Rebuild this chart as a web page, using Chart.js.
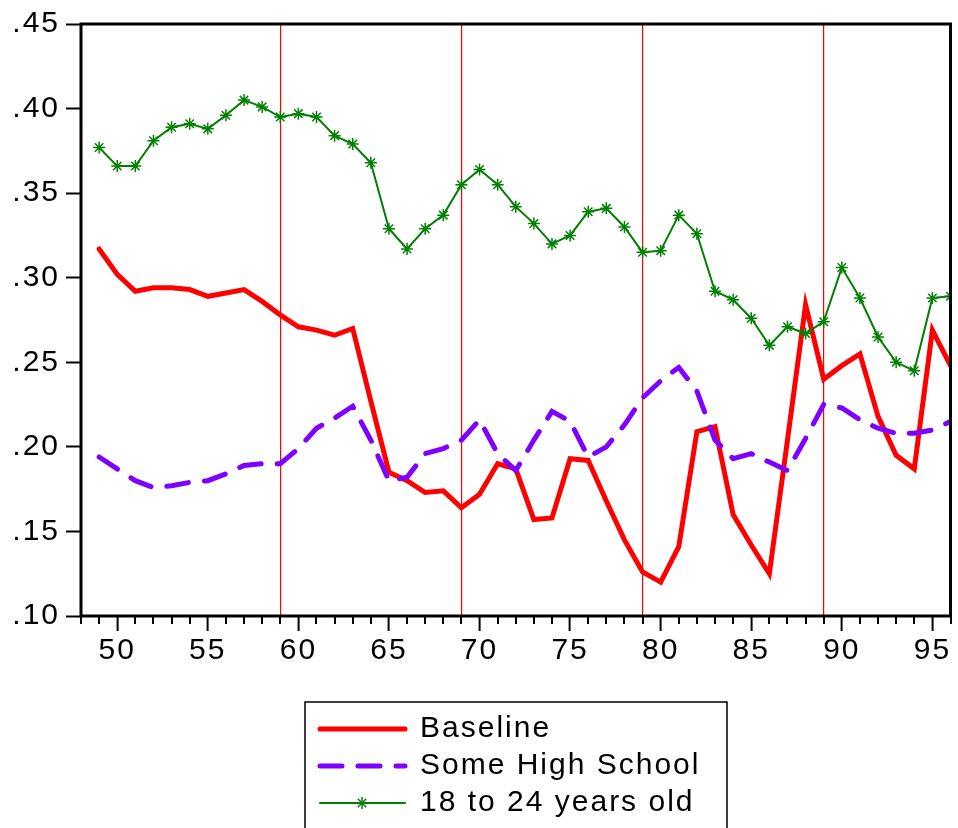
<!DOCTYPE html>
<html lang="en">
<head>
<meta charset="UTF-8">
<title>Baseline vs groups</title>
<script src="https://cdn.jsdelivr.net/npm/chart.js"></script>
<style>
  html, body { margin: 0; padding: 0; background: #fff; }
  #wrap { width: 958px; height: 828px; }
</style>
</head>
<body>
<div id="wrap"><canvas id="chart" width="958" height="828"></canvas></div>
<script>
// years 49..96
var years = [49,50,51,52,53,54,55,56,57,58,59,60,61,62,63,64,65,66,67,68,69,70,71,72,
             73,74,75,76,77,78,79,80,81,82,83,84,85,86,87,88,89,90,91,92,93,94,95,96];

var baseline = [0.317,0.302,0.292,0.294,0.294,0.293,0.289,0.291,0.293,0.286,0.278,
                0.271,0.269,0.266,0.270,0.227,0.185,0.180,0.173,0.174,0.164,
                0.172,0.190,0.187,0.157,0.158,0.193,0.192,0.168,0.145,0.126,
                0.120,0.141,0.209,0.212,0.160,0.142,0.125,0.204,0.284,0.240,
                0.248,0.255,0.218,0.195,0.187,0.269,0.248];

var someHighSchool = [0.194,0.187,0.180,0.176,0.177,0.179,0.180,0.184,0.189,0.190,0.190,
                      0.199,0.211,0.217,0.224,0.204,0.180,0.182,0.196,0.199,0.204,
                      0.216,0.196,0.186,0.204,0.221,0.215,0.194,0.200,0.213,0.229,
                      0.239,0.247,0.233,0.204,0.193,0.196,0.191,0.186,0.205,0.225,
                      0.223,0.216,0.211,0.208,0.208,0.210,0.215];

var age18to24 = [0.377,0.366,0.366,0.381,0.389,0.391,0.388,0.396,0.405,0.401,0.395,
                 0.397,0.395,0.384,0.379,0.368,0.329,0.317,0.329,0.337,0.355,
                 0.364,0.355,0.342,0.332,0.320,0.325,0.339,0.341,0.330,0.315,
                 0.316,0.337,0.326,0.292,0.287,0.276,0.260,0.271,0.267,0.274,
                 0.306,0.288,0.265,0.250,0.245,0.288,0.289];

// red vertical marker years
var breakYears = [59, 69, 79, 89];

var xMin = 48, xMax = 96;
var yMin = 0.10, yMax = 0.45, yStep = 0.05;

function pts(vals) {
  return years.map(function (y, i) { return { x: y, y: vals[i] }; });
}

var FONT = "'Liberation Sans', Arial, sans-serif";

// frame, minor ticks, letter spacing and legend box
var extras = {
  id: 'extras',
  beforeDraw: function (chart) {
    chart.ctx.letterSpacing = '2px';
  },
  afterDraw: function (chart) {
    var ctx = chart.ctx, a = chart.chartArea, xs = chart.scales.x;
    ctx.save();
    // minor ticks
    ctx.strokeStyle = '#000';
    ctx.lineWidth = 2;
    xs.ticks.forEach(function (t) {
      if (t.value % 5 !== 0) {
        var px = Math.round(xs.getPixelForValue(t.value));
        ctx.beginPath();
        ctx.moveTo(px, a.bottom);
        ctx.lineTo(px, a.bottom + 8);
        ctx.stroke();
      }
    });
    // frame
    ctx.lineWidth = 3;
    ctx.strokeRect(a.left, a.top, a.right - a.left, a.bottom - a.top);

    // legend
    var lx = 305, ly = 702, lw = 422;
    ctx.lineWidth = 1.5;
    ctx.strokeRect(lx, ly, lw, 150);
    ctx.font = '30px ' + FONT;
    ctx.letterSpacing = '2px';
    ctx.fillStyle = '#000';
    ctx.textBaseline = 'middle';
    ctx.textAlign = 'left';
    var rows = [729, 766, 803];
    chart.data.datasets.forEach(function (ds, i) {
      var yy = rows[i];
      ctx.save();
      ctx.strokeStyle = ds.borderColor;
      ctx.lineWidth = ds.borderWidth;
      ctx.lineCap = ds.borderCapStyle || 'round';
      ctx.setLineDash(ds.borderDash || []);
      ctx.beginPath();
      ctx.moveTo(320, yy);
      ctx.lineTo(405, yy);
      ctx.stroke();
      ctx.restore();
      if (ds.pointStyle === 'star') {
        ctx.save();
        ctx.strokeStyle = ds.borderColor;
        ctx.lineWidth = 1.5;
        var cx = 362, r = 6;
        for (var k = 0; k < 4; k++) {
          var ang = k * Math.PI / 4;
          ctx.beginPath();
          ctx.moveTo(cx - r * Math.sin(ang), yy - r * Math.cos(ang));
          ctx.lineTo(cx + r * Math.sin(ang), yy + r * Math.cos(ang));
          ctx.stroke();
        }
        ctx.restore();
      }
      ctx.fillText(ds.label, 420, yy);
    });
    ctx.restore();
  }
};

var ctx = document.getElementById('chart').getContext('2d');
var chart = new Chart(ctx, {
  type: 'line',
  data: {
    datasets: [
      {
        label: 'Baseline',
        data: pts(baseline),
        borderColor: '#ff0000',
        borderWidth: 5,
        borderCapStyle: 'round',
        pointRadius: 0,
        tension: 0,
        order: 3
      },
      {
        label: 'Some High School',
        data: pts(someHighSchool),
        borderColor: '#7f00ff',
        borderWidth: 5,
        borderDash: [22, 16],
        borderCapStyle: 'round',
        pointRadius: 0,
        tension: 0,
        order: 2
      },
      {
        label: '18 to 24 years old',
        data: pts(age18to24),
        borderColor: '#008000',
        backgroundColor: '#008000',
        borderWidth: 2,
        pointStyle: 'star',
        pointRadius: 6,
        pointBorderWidth: 1.5,
        pointBorderColor: '#008000',
        tension: 0,
        order: 1
      }
    ]
  },
  options: {
    responsive: false,
    animation: false,
    layout: { padding: { top: 23, right: 5, left: 0, bottom: 0 } },
    plugins: { legend: { display: false }, tooltip: { enabled: false } },
    scales: {
      x: {
        type: 'linear',
        min: xMin,
        max: xMax,
        afterFit: function (s) { s.height = 212; },
        border: { display: false },
        grid: {
          drawOnChartArea: true,
          color: function (c) {
            return c.tick && breakYears.indexOf(c.tick.value) >= 0 ? '#ff0000' : 'rgba(0,0,0,0)';
          },
          lineWidth: 1.2,
          tickLength: 15,
          tickWidth: 2,
          tickColor: function (c) {
            return c.tick && c.tick.value % 5 === 0 ? '#000' : 'rgba(0,0,0,0)';
          }
        },
        ticks: {
          stepSize: 1,
          autoSkip: false,
          maxRotation: 0,
          padding: 2,
          color: '#000',
          font: { family: FONT, size: 30 },
          callback: function (v) { return v % 5 === 0 ? String(v) : ''; }
        }
      },
      y: {
        min: yMin,
        max: yMax,
        afterFit: function (s) { s.width = 81; },
        border: { display: false },
        grid: {
          drawOnChartArea: false,
          tickLength: 15,
          tickWidth: 2,
          tickColor: '#000'
        },
        ticks: {
          stepSize: yStep,
          padding: 6,
          color: '#000',
          font: { family: FONT, size: 30 },
          callback: function (v) { return v.toFixed(2).replace(/^0/, ''); }
        }
      }
    }
  },
  plugins: [extras]
});
</script>
</body>
</html>
